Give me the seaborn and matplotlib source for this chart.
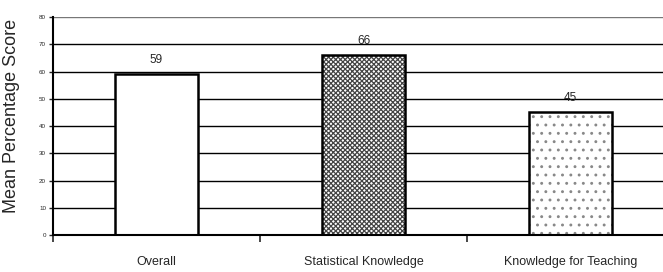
import pandas as pd
import seaborn as sns
import matplotlib.pyplot as plt
from matplotlib.ticker import FixedLocator

categories = ['Overall', 'Statistical Knowledge', 'Knowledge for Teaching']
scores = [59, 66, 45]
y_ticks = [0, 10, 20, 30, 40, 50, 60, 70, 80]

df = pd.DataFrame({'category': categories, 'score': scores})

sns.set_style('white')
plt.rcParams['font.family'] = ['Liberation Sans', 'DejaVu Sans']
plt.rcParams['hatch.linewidth'] = 0.9

fig = plt.figure(figsize=(6.63, 2.72), dpi=100)
ax = fig.add_axes([0.08, 0.136, 0.9367, 0.801])

# horizontal gridlines behind the bars
for v in y_ticks[1:]:
    ax.axhline(v, color='black' if v < 80 else '#777777', lw=1.0, zorder=0)

# hatched fills
sns.barplot(data=df, x='category', y='score', ax=ax, width=0.4,
            color='white', edgecolor='#444444', linewidth=0, zorder=2)
hatches = ['', 'xxxxxxx', '..']
hatch_colors = ['#444444', '#444444', '#888888']
for patch, h, c in zip(ax.patches, hatches, hatch_colors):
    patch.set_hatch(h)
    patch.set_edgecolor(c)
    patch.set_linewidth(0)
# black outlines
sns.barplot(data=df, x='category', y='score', ax=ax, width=0.4,
            fill=False, edgecolor='black', linewidth=1.8, zorder=3)

ax.bar_label(ax.containers[0], labels=[str(s) for s in scores],
             padding=6, fontsize=8.5)

ax.set_xlim(-0.5, 2.5)
ax.set_ylim(0, 80)
ax.set_yticks(y_ticks)
ax.set_yticklabels([str(t) for t in y_ticks], fontsize=4.5)
ax.tick_params(axis='y', length=3, width=1, pad=2, direction='out', left=True)

ax.set_xlabel('')
ax.set_xticks([0, 1, 2])
ax.set_xticklabels(categories, fontsize=9)
ax.tick_params(axis='x', which='major', length=0, pad=15)
ax.xaxis.set_minor_locator(FixedLocator([-0.5, 0.5, 1.5]))
ax.tick_params(axis='x', which='minor', length=5, width=1.2, direction='out', bottom=True)

ax.set_ylabel('Mean Percentage Score', fontsize=13)
ax.yaxis.set_label_coords(-0.053, 0.546)

for s in ['top', 'right']:
    ax.spines[s].set_visible(False)
for s in ['left', 'bottom']:
    ax.spines[s].set_color('black')
    ax.spines[s].set_linewidth(1.5)
    ax.spines[s].set_zorder(4)

fig.savefig('out.png', dpi=100)
